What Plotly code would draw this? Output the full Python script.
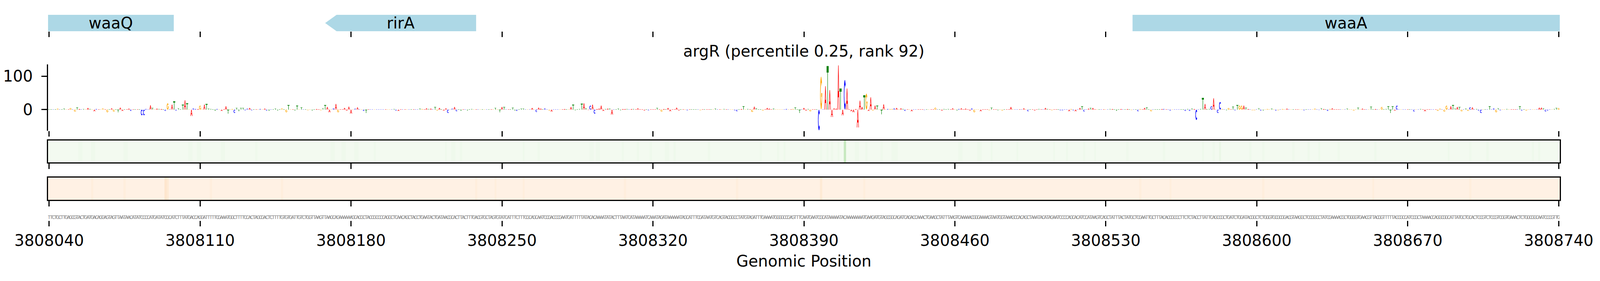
import numpy as np
import plotly.graph_objects as go

START = 3808040
title_text = "argR (percentile 0.25, rank 92)"
tick_vals = [3808040, 3808110, 3808180, 3808250, 3808320, 3808390,
             3808460, 3808530, 3808600, 3808670, 3808740]

gene_names = ["waaQ", "rirA", "waaA"]
gene_starts = [3808020.0, 3808168.0, 3808542.4]
gene_ends = [3808097.8, 3808238.0, 3808780.0]
gene_strands = ["-", "-", "+"]

sequence = (
    "TTCTGCTTGA" "GCGTACTGAT" "GACAGGAGTA" "GTTAATAACA" "TATCCCCATG"
    "ATATCGCATC" "TTTATGACCA" "GGATTTTTCG" "AAATGGCTTT" "TCCACTAGC"
    "GACTCTTTTG" "TGTGATTGTC" "TGGTTAAGTT" "AAGCAGAAAA" "AAGCACGCTA"
    "CCGCCCCAGG" "CTCAACAGCT" "ACCTGAATAC" "TGATAACGCA" "CTTACTTTG"
    "ACGTGCTAGT" "GTATCATTTC" "TTTCGCAGCA" "ATCCGACCCG" "AATGATTTTT"
    "ATACACAAAA" "TATACTTTAA" "TCATAAAAAT" "CAAATAGATA" "AAAAATAGCA"
    "TTTCGATAAT" "GTCAGTACGG" "CCTATGTAGA" "TTTGAAAATG" "GGGCCGAGTT"
    "TCAATGAATC" "GCATAAAAAT" "ACAAAAAAAA" "TGAAGATGTA" "GCGGCAGA"
    "TCAGACCAAA" "CTGAAGCTAT" "TTAAGTCAAA" "AACGGGAAAA" "GTAATGGTAA"
    "AGCCACAGCT" "AAATACATAG" "AATCCCCAGC" "ACATCCATAA" "GTCAGCTATT"
    "TACTATGCTC" "GAATTGCTTT" "ACACCGCCCT" "TCTCTACCTT" "ATTCAGCCGC"
    "TGATCTGGAT" "ACGGCTCTGG" "GTGCGCGGAC" "GTAAGGCTCC" "GGCCTATCGA"
    "AAACGCTGGG" "GTGAACGTTA" "CGGTTTTTAC" "CGCCATCCGC" "TAAAACCAGG"
    "CGGCATTATG" "CTGCACTCCG" "TCTCCGTCGG" "TGAAACTCTG" "GCGGCAATCC"
    "CGTTG"
)

# attribution per position, 50 per row
attribution_rows = [
    [1, 1, 1, 1, 3, 1, 1, 3, 1, 1, 5, 1, -6, 7, 2, 1, 2, 1, 5, 2, 1, -5, 2, 1, 1, 4, 1, -8, 1, 4,
     -6, 1, -8, 6, -4, 1, 1, 3, -4, 1, 1, 1, 1, -17, -17, 2, 1, 13, 5, 1],
    [3, 2, 2, 1, -4, 19, 1, 15, 25, -3, 4, 1, 15, 28, 19, 1, -19, 4, 2, 2, 12, 1, 15, 17, 3, 2, 1, -4, 2, 1,
     -4, 1, 10, -12, 1, 2, -10, 5, -5, 5, 5, -2, 3, 5, -2, 1, 1, 1, 2, 1],
    [3, -3, -4, 1, 1, 3, -3, 1, 4, 1, -8, 14, 1, 1, -3, 12, 1, 7, 1, 1, -2, 1, -3, 1, 2, 1, -2, 4, 14, 8,
     -8, 1, 4, 17, -8, 1, 1, 5, -3, 9, -12, 1, 3, 7, 1, 1, -4, -10, 1, 1],
    [1, 1, 1, 1, 1, 1, 1, 1, 1, 1, 2, -3, -4, 1, 1, 1, 1, 1, 1, 1, 1, 1, 3, 2, 1, 4, 2, 3, 1, 8,
     -3, 5, 1, -3, 4, -10, 1, 3, 8, -5, 1, -4, 1, 1, -3, 1, 2, 1, 1, 1],
    [1, 1, 1, 1, 1, 1, 1, 5, 1, -8, 8, 8, 1, 1, 1, 6, -3, -4, 1, 3, 3, 1, 1, 1, 5, 1, -7, 6, 3, 1,
     4, 1, -3, -6, 1, 1, 1, 1, 1, 2, 1, 1, 8, 15, -2, 1, 2, 18, 19, 4],
    [-1, 12, 15, -12, 2, 3, 12, -4, 2, 3, 3, -15, 1, 1, 3, -2, 2, 2, 2, 1, 2, 2, 1, 4, 1, 1, -2, 1, -2, 1,
     1, 1, 5, 1, -6, 2, 1, 5, -5, 1, 1, 6, -2, 1, 1, 1, -2, 1, 1, 1],
    [1, 1, -2, 1, 1, 1, 1, 1, 1, 3, 1, 1, 1, 2, 1, 1, 1, 1, -2, -5, 1, 2, 10, 1, 2, 1, -7, 9, 4, 1,
     1, -3, 1, 5, 3, 1, 3, 1, 1, 1, 1, 1, 2, 1, 1, 2, 7, 1, -10, 1],
    [5, -3, 2, -5, 1, 1, 1, -62, 99, 1, 70, 130, 58, -22, 4, 3, 132, 63, -17, 89, 63, 1, -5, -8, 2, -53, 27, 8, 43, 48,
     -4, 37, -3, 12, 12, 1, -14, 16, 1, 2, 2, 2, 4, 5, 1, 4, 2, -4, 1, 1],
    [-5, 1, 1, 1, 1, 1, -1, 1, 1, 1, 1, 6, 1, 1, -3, 2, 1, 2, 1, 4, 1, -3, 2, 4, 1, 3, 1, -3, 4, -8,
     1, 1, -5, 1, 1, 1, -2, 6, 1, 1, -2, 1, -3, 1, 1, 1, 8, 1, 1, 1],
    [1, 1, 4, 1, -5, 1, 1, -2, 1, 2, 1, 1, 5, 2, 1, -2, 1, 1, 1, -2, -2, 1, 1, -5, 2, -2, -5, 1, 5, 10,
     -6, 1, 3, 5, 5, 1, 1, 1, 1, 1, 1, 1, 2, 2, 1, -4, 1, 2, 1, 1],
    [2, 1, -1, 1, 1, -5, 2, 1, 5, 7, 1, -5, 1, 1, 1, 1, 2, 2, 1, 1, -3, 1, 1, 1, 1, 1, 1, -4, 2, -4,
     3, 2, -31, 1, 2, 35, 17, 1, 2, 10, 34, 1, -10, 23, 2, 1, -2, 5, 1, 9],
    [-2, 14, 12, 12, 12, 6, 2, 1, -2, -2, 1, 4, -3, -3, 1, 2, 1, 3, 1, -3, -2, 1, 2, 1, 3, 1, 1, 1, 1, 1,
     1, 1, -2, 1, 1, 1, 1, 3, 1, -1, 4, 2, 1, -4, 2, 4, 1, 1, 1, 1],
    [1, 1, 3, 1, 1, -3, 1, 6, 1, 3, 1, 1, 1, 9, 1, 2, 1, 1, 8, 1, 2, 10, -10, 10, -3, 12, 1, 1, 1, 1,
     1, 1, 1, -6, 1, 1, 2, 1, -5, 1, 1, 1, 1, 1, -4, 3, 1, -6, 12, 1],
    [10, 14, 3, 8, 8, -5, 1, 3, -4, 7, 7, 1, 2, -3, -10, 1, 1, 1, 10, 1, 4, -8, 4, -2, 1, 1, 2, 1, 1, 1,
     1, 1, 10, -3, 1, -3, 1, 1, 1, 1, 1, 6, 6, 4, -6, -3, 1, 1, 2, 5, 5],
]
attribution = [v for row in attribution_rows for v in row]

# heatmap intensity levels, one digit per position
green_levels = (
    "1111111111" "1111221111" "2211111111" "1111122111" "1111111111"
    "1111111111" "1111122112" "2111111111" "2211111111" "1111112111"
    "1111111111" "1111111111" "1111111111" "1221112211" "1122111111"
    "1211111111" "1111111111" "1111111111" "1111211221" "1211111111"
    "1111111111" "1111111111" "2111111211" "1111111111" "1111111111"
    "1221221111" "1111112111" "1112111112" "1111112211" "2111111111"
    "1111112111" "1111111111" "1111111111" "2111111121" "1211111111"
    "1111111121" "1212112119" "1111221112" "1111112111" "1222111111"
    "1111111111" "1111111111" "1122111111" "1221111211" "1111111112"
    "1111111111" "1111112111" "1121111111" "2111121111" "1111111111"
    "2111111111" "1111111211" "1111111111" "1111121111" "2113111111"
    "1111111211" "1112111111" "1111111211" "1111211112" "1111111121"
    "1111111111" "1111121111" "1111111111" "1111111111" "1111111112"
    "1111111112" "1111111211" "1111111111" "1111111121" "1211111111" "1"
)
orange_levels = (
    "1111111111" "1111111111" "2111111111" "1111121111" "1111111111"
    "1111431111" "1111111111" "1111121111" "1111111111" "1111111111"
    "1111111121" "1111111111" "1111111111" "1111111111" "1111111111"
    "1111111111" "1111111111" "1111111111" "1111111111" "1111111121"
    "1111111211" "1111111111" "2111111111" "1111111111" "1111111111"
    "1111111111" "1111111211" "1111111111" "1111111111" "1111111111"
    "1111111111" "1111111112" "1111111111" "1111111111" "1111111111"
    "1111111131" "1111111111" "1111111121" "1111111111" "1111111111"
    "1111111111" "1111111111" "1111111111" "1111111111" "1111111111"
    "1111111111" "1111111111" "1111111111" "1111111111" "1111111111"
    "1111112111" "1111111111" "2111111111" "1111111111" "1111111111"
    "1111111111" "1112111111" "1111111111" "1111111111" "1111111111"
    "1111111111" "1111211111" "1111111111" "1111111111" "1111111111"
    "1111111112" "1111111111" "1111111111" "1111111111" "1111111111" "1"
)

positions = [START + i for i in range(len(sequence))]
XR = [START - 0.5, START + 700.5]

BASE_COLORS = {"A": "#ff0000", "C": "#0000ff", "G": "#ffa500", "T": "#008000"}
GREENS = ["#f7fcf5", "#e5f5e0", "#c7e9c0", "#a1d99b", "#74c476", "#41ab5d", "#238b45", "#006d2c", "#00441b"]
ORANGES = ["#fff5eb", "#fee6ce", "#fdd0a2", "#fdae6b", "#fd8d3c", "#f16913", "#d94801", "#a63603", "#7f2704"]

H = 720
TOP = 8  # page body margin


def py(px):
    # pixel row in the window -> paper fraction
    return 1 - (px - TOP) / H


def ring(a0, a1, rx, ry, n=16):
    t = np.radians(np.linspace(a0, a1, n))
    us = list(0.5 + 0.5 * np.cos(t)) + list(0.5 + rx * np.cos(t[::-1]))
    vs = list(0.5 + 0.5 * np.sin(t)) + list(0.5 + ry * np.sin(t[::-1]))
    return us, vs


def g_shape():
    t = np.radians(np.linspace(40, 360, 16))
    ti = np.radians(np.linspace(345, 40, 14))
    us = list(0.5 + 0.5 * np.cos(t)) + [0.55, 0.55, 0.76] + list(0.5 + 0.26 * np.cos(ti))
    vs = list(0.5 + 0.5 * np.sin(t)) + [0.5, 0.38, 0.38] + list(0.5 + 0.32 * np.sin(ti))
    return us, vs


# unit-box letter outlines
GLYPHS = {
    "A": [([0, 0.4, 0.6, 1, 0.78, 0.69, 0.31, 0.22], [0, 1, 1, 0, 0, 0.28, 0.28, 0])],
    "C": [ring(45, 315, 0.26, 0.32)],
    "G": [g_shape()],
    "T": [([0, 1, 1, 0.6, 0.6, 0.4, 0.4, 0], [1, 1, 0.85, 0.85, 0, 0, 0.85, 0.85])],
}
HOLES = {"A": [([0.37, 0.63, 0.5], [0.42, 0.42, 0.76])]}

fig = go.Figure()

# gene track
for name, s, e, strand in zip(gene_names, gene_starts, gene_ends, gene_strands):
    head = min(5.3, e - s)
    if strand == "-":
        gx = [s, s + head, e, e, s + head, s]
        gy = [0.5, 1, 1, 0, 0, 0.5]
    else:
        gx = [s, e - head, e, e - head, s, s]
        gy = [1, 1, 0.5, 0, 0, 1]
    fig.add_trace(go.Scatter(x=gx, y=gy, fill="toself", mode="lines", line=dict(width=0),
                             fillcolor="#add8e6", hoverinfo="skip", showlegend=False,
                             xaxis="x", yaxis="y"))
    mid = (max(s, XR[0]) + min(e, XR[1])) / 2
    fig.add_annotation(x=mid, y=0.5, xref="x", yref="y", text=name, showarrow=False,
                       font=dict(size=40, color="black"))

# sequence logo
for base in "ACGT":
    xs, ys = [], []
    for pos, b, h in zip(positions, sequence, attribution):
        if b != base:
            continue
        y0, hh = min(h, 0), abs(h)
        for us, vs in GLYPHS[b]:
            xs += [pos - 0.48 + 0.96 * u for u in us] + [None]
            ys += [y0 + hh * v for v in vs] + [None]
    fig.add_trace(go.Scatter(x=xs, y=ys, fill="toself", mode="lines", line=dict(width=0),
                             fillcolor=BASE_COLORS[base], hoverinfo="skip", showlegend=False,
                             xaxis="x2", yaxis="y2"))
hx, hy = [], []
for pos, b, h in zip(positions, sequence, attribution):
    for us, vs in HOLES.get(b, []):
        y0, hh = min(h, 0), abs(h)
        hx += [pos - 0.48 + 0.96 * u for u in us] + [None]
        hy += [y0 + hh * v for v in vs] + [None]
fig.add_trace(go.Scatter(x=hx, y=hy, fill="toself", mode="lines", line=dict(width=0),
                         fillcolor="white", hoverinfo="skip", showlegend=False,
                         xaxis="x2", yaxis="y2"))

# heatmap rows
fig.add_trace(go.Heatmap(x=positions, y=[0], z=[[int(c) for c in green_levels]],
                         colorscale=GREENS, zmin=0, zmax=36, showscale=False,
                         hoverinfo="skip", xaxis="x3", yaxis="y3"))
fig.add_trace(go.Heatmap(x=positions, y=[0], z=[[int(c) for c in orange_levels]],
                         colorscale=ORANGES, zmin=0, zmax=32, showscale=False,
                         hoverinfo="skip", xaxis="x4", yaxis="y4"))

# sequence text
fig.add_trace(go.Scatter(x=positions, y=[0.28] * len(positions), mode="text", text=list(sequence),
                         textfont=dict(family="Liberation Sans Narrow, DejaVu Sans Condensed, DejaVu Sans Mono",
                                       size=13, color="#7a7a7a"),
                         hoverinfo="skip", showlegend=False, xaxis="x5", yaxis="y5"))

xbase = dict(range=XR, tickvals=tick_vals, ticks="outside", ticklen=14, tickwidth=3,
             tickcolor="black", showgrid=False, zeroline=False, showticklabels=False)
box = dict(showline=True, mirror=True, linewidth=3, linecolor="black")

fig.update_layout(
    height=H, autosize=True,
    margin=dict(l=113, r=95, t=0, b=0, pad=0),
    paper_bgcolor="white", plot_bgcolor="white",
    font=dict(family="DejaVu Sans", size=40, color="black"),
    showlegend=False,
    xaxis=dict(**xbase, anchor="y", showline=False),
    yaxis=dict(domain=[py(80), py(38)], range=[0, 1], visible=False),
    xaxis2=dict(**xbase, anchor="y2", showline=False),
    yaxis2=dict(domain=[py(335), py(165)], range=[-63, 135], tickvals=[0, 100],
                ticks="outside", ticklen=14, tickwidth=3, tickcolor="black",
                showline=True, linewidth=3, linecolor="black", showgrid=False,
                zeroline=False, ticklabelstandoff=14, tickfont=dict(size=40)),
    xaxis3=dict(**xbase, anchor="y3", **box),
    yaxis3=dict(domain=[py(416), py(360)], range=[-0.5, 0.5], showticklabels=False,
                ticks="", showgrid=False, zeroline=False, **box),
    xaxis4=dict(**xbase, anchor="y4", **box),
    yaxis4=dict(domain=[py(512), py(455)], range=[-0.5, 0.5], showticklabels=False,
                ticks="", showgrid=False, zeroline=False, **box),
    xaxis5=dict(range=XR, tickvals=tick_vals, ticktext=[str(v) for v in tick_vals],
                ticks="outside", ticklen=14, tickwidth=3, tickcolor="black",
                showgrid=False, zeroline=False, showline=False, anchor="y5",
                ticklabelstandoff=2, tickfont=dict(size=40)),
    yaxis5=dict(domain=[py(565), py(540)], range=[0, 1], visible=False),
)

fig.add_annotation(x=0.5, y=py(131), xref="paper", yref="paper", text=title_text,
                   showarrow=False, yanchor="middle", font=dict(size=40))
fig.add_annotation(x=0.5, y=py(669), xref="paper", yref="paper", text="Genomic Position",
                   showarrow=False, yanchor="middle", font=dict(size=40))

fig.write_html("out.html", config={"responsive": True}, default_width="100%")
